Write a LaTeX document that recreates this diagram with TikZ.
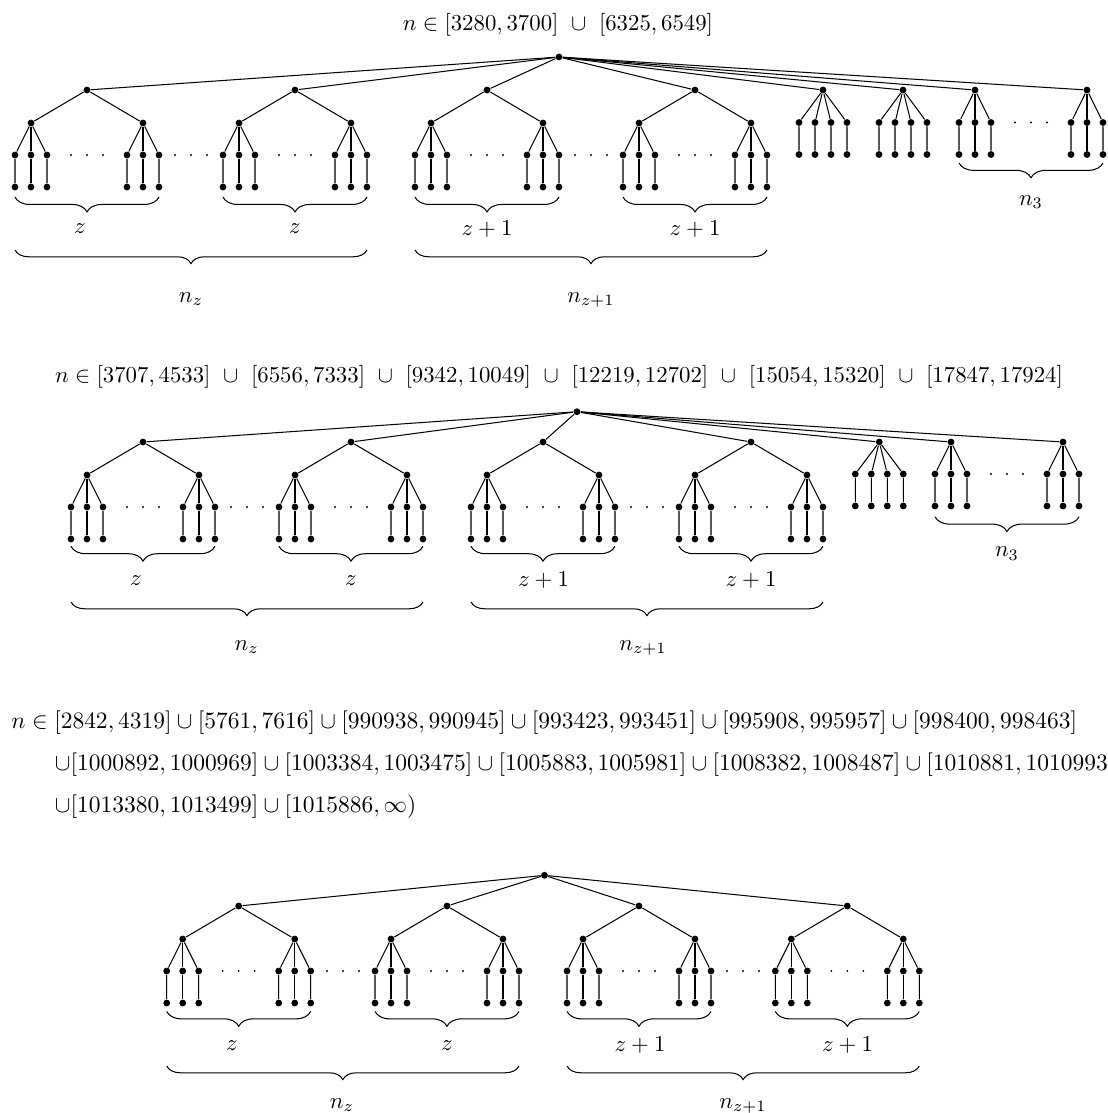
\documentclass[tikz,border=0pt]{standalone}
\usetikzlibrary{decorations.pathreplacing}
\tikzset{
  dot/.style={circle, fill=black, inner sep=0pt, minimum size=3pt},
  sdot/.style={circle, fill=black, inner sep=0pt, minimum size=0.9pt},
  edge/.style={line width=0.45pt},
  brc/.style={decorate, decoration={brace, mirror, amplitude=6.5pt}, line width=0.45pt},
  bigbrc/.style={decorate, decoration={brace, mirror, amplitude=6pt}, line width=0.45pt},
  lbl/.style={inner sep=0pt, anchor=base},
  ttl/.style={inner sep=0pt, anchor=base west, scale=1.03},
}
% binary tree with 3 children per inner node and pendant leaves
\newcommand\treeA[6]{%
  \node[dot] (#1) at (#2,#3) {};
  \foreach \sn/\s in {a/-1,b/1}{
    \node[dot] (#1-\sn) at ({#2+\s*56},#4) {};
    \draw[edge] (#1) -- (#1-\sn);
    \foreach \k in {1,2,3}{
      \node[dot] (#1-\sn-\k) at ({#2+\s*56+(\k-2)*16},#5) {};
      \node[dot] (#1-\sn-\k-l) at ({#2+\s*56+(\k-2)*16},#6) {};
      \draw[edge] (#1-\sn) -- (#1-\sn-\k) -- (#1-\sn-\k-l);
    }
  }
  \foreach \k in {1,2,3} \node[sdot] (#1-d\k) at ({#2+(\k-2)*16},#5) {};
}
% star with pendant leaves
\newcommand\treeF[6]{%
  \node[dot] (#1) at (#2,#3) {};
  \foreach \k in {1,...,#6}{
    \node[dot] (#1-\k) at ({#2+(\k-(#6+1)/2)*16},#4) {};
    \node[dot] (#1-\k-l) at ({#2+(\k-(#6+1)/2)*16},#5) {};
    \draw[edge] (#1) -- (#1-\k) -- (#1-\k-l);
  }
}
\newcommand\gapdots[3]{%
  \foreach \k in {1,2,3} \node[sdot] (#1-\k) at ({#2+(\k-2)*16},#3) {};
}
\begin{document}
\begin{tikzpicture}[x=0.4386pt, y=-0.4386pt]
\clip (0,0) rectangle (1108,1113);

% ---------------- Diagram 1 ----------------
\node[lbl] (t1) at (558,30) {$n\in[3280,3700]\ \cup\ [6325,6549]$};
\node[dot] (r1) at (559,57) {};
\treeA{A1}{87}{90}{123}{155}{187}
\treeA{A2}{295}{90}{123}{155}{187}
\treeA{A3}{487}{90}{123}{155}{187}
\treeA{A4}{695}{90}{123}{155}{187}
\gapdots{ga1}{191}{155}
\gapdots{ga2}{591}{155}
\treeF{F1}{823}{90}{122.5}{154.5}{4}
\treeF{F2}{903}{90}{122.5}{154.5}{4}
\treeF{F3}{975}{90}{122.5}{154.5}{3}
\treeF{F4}{1087}{90}{122.5}{154.5}{3}
\gapdots{gf1}{1031}{122.5}
\foreach \t in {A1,A2,A3,A4,F1,F2,F3,F4} \draw[edge] (r1) -- (\t);
\foreach \t in {A1,A2,A3,A4}
  \draw[brc] ([yshift=-4.4pt]\t-a-1-l.center) -- ([yshift=-4.4pt]\t-b-3-l.center);
\draw[bigbrc] ([yshift=-27.6pt]A1-a-1-l.center) -- ([yshift=-27.6pt]A2-b-3-l.center);
\draw[bigbrc] ([yshift=-27.6pt]A3-a-1-l.center) -- ([yshift=-27.6pt]A4-b-3-l.center);
\draw[brc] ([yshift=-3.7pt]F3-1-l.center) -- ([yshift=-3.7pt]F4-3-l.center);
\node[lbl] (za1) at (80,233.5) {$z$};
\node[lbl] (za2) at (295,233.5) {$z$};
\node[lbl] (za3) at (487,235) {$z+1$};
\node[lbl] (za4) at (695,235) {$z+1$};
\node[lbl] (na1) at (191,302) {$n_z$};
\node[lbl] (na2) at (591,302) {$n_{z+1}$};
\node[lbl] (na3) at (1031,205) {$n_3$};

% ---------------- Diagram 2 ----------------
\node[lbl] (t2) at (559,382) {$n\in[3707,4533]\ \cup\ [6556,7333]\ \cup\ [9342,10049]\ \cup\ [12219,12702]\ \cup\ [15054,15320]\ \cup\ [17847,17924]$};
\node[dot] (r2) at (577,411.7) {};
\treeA{B1}{143}{442}{475}{507}{539}
\treeA{B2}{351}{442}{475}{507}{539}
\treeA{B3}{543}{442}{475}{507}{539}
\treeA{B4}{751}{442}{475}{507}{539}
\gapdots{gb1}{247}{507}
\gapdots{gb2}{647}{507}
\treeF{G1}{879.3}{442}{474}{506}{4}
\treeF{G2}{951}{442}{474}{506}{3}
\treeF{G3}{1063}{442}{474}{506}{3}
\gapdots{gg1}{1007}{474}
\foreach \t in {B1,B2,B3,B4,G1,G2,G3} \draw[edge] (r2) -- (\t);
\foreach \t in {B1,B2,B3,B4}
  \draw[brc] ([yshift=-3.2pt]\t-a-1-l.center) -- ([yshift=-3.2pt]\t-b-3-l.center);
\draw[bigbrc] ([yshift=-27.6pt]B1-a-1-l.center) -- ([yshift=-27.6pt]B2-b-3-l.center);
\draw[bigbrc] ([yshift=-27.6pt]B3-a-1-l.center) -- ([yshift=-27.6pt]B4-b-3-l.center);
\draw[brc] ([yshift=-4.7pt]G2-1-l.center) -- ([yshift=-4.7pt]G3-3-l.center);
\node[lbl] (zb1) at (136,585.7) {$z$};
\node[lbl] (zb2) at (351,585.7) {$z$};
\node[lbl] (zb3) at (543.5,586.7) {$z+1$};
\node[lbl] (zb4) at (751,586.7) {$z+1$};
\node[lbl] (nb1) at (246.7,650) {$n_z$};
\node[lbl] (nb2) at (643,650) {$n_{z+1}$};
\node[lbl] (nb3) at (1007,556.7) {$n_3$};

% ---------------- Diagram 3 ----------------
\node[ttl] (t3a) at (11,728) {$n\in[2842,4319]\cup[5761,7616]\cup[990938,990945]\cup[993423,993451]\cup[995908,995957]\cup[998400,998463]$};
\node[ttl] (t3b) at (54.5,770) {$\cup[1000892,1000969]\cup[1003384,1003475]\cup[1005883,1005981]\cup[1008382,1008487]\cup[1010881,1010993]$};
\node[ttl] (t3c) at (54.5,812) {$\cup[1013380,1013499]\cup[1015886,\infty)$};
\node[dot] (r3) at (544.5,875.3) {};
\treeA{C1}{238.7}{906}{939}{971}{1003}
\treeA{C2}{447}{906}{939}{971}{1003}
\treeA{C3}{639}{906}{939}{971}{1003}
\treeA{C4}{847.3}{906}{939}{971}{1003}
\gapdots{gc1}{343}{971}
\gapdots{gc2}{743}{971}
\foreach \t in {C1,C2,C3,C4} \draw[edge] (r3) -- (\t);
\foreach \t in {C1,C2,C3,C4}
  \draw[brc] ([yshift=-3.7pt]\t-a-1-l.center) -- ([yshift=-3.7pt]\t-b-3-l.center);
\draw[bigbrc] ([yshift=-27.6pt]C1-a-1-l.center) -- ([yshift=-27.6pt]C2-b-3-l.center);
\draw[bigbrc] ([yshift=-27.6pt]C3-a-1-l.center) -- ([yshift=-27.6pt]C4-b-3-l.center);
\node[lbl] (zc1) at (232,1050) {$z$};
\node[lbl] (zc2) at (447,1050) {$z$};
\node[lbl] (zc3) at (640,1051) {$z+1$};
\node[lbl] (zc4) at (847.5,1051) {$z+1$};
\node[lbl] (nc1) at (342,1108.3) {$n_z$};
\node[lbl] (nc2) at (743,1108.3) {$n_{z+1}$};
\end{tikzpicture}
\end{document}
